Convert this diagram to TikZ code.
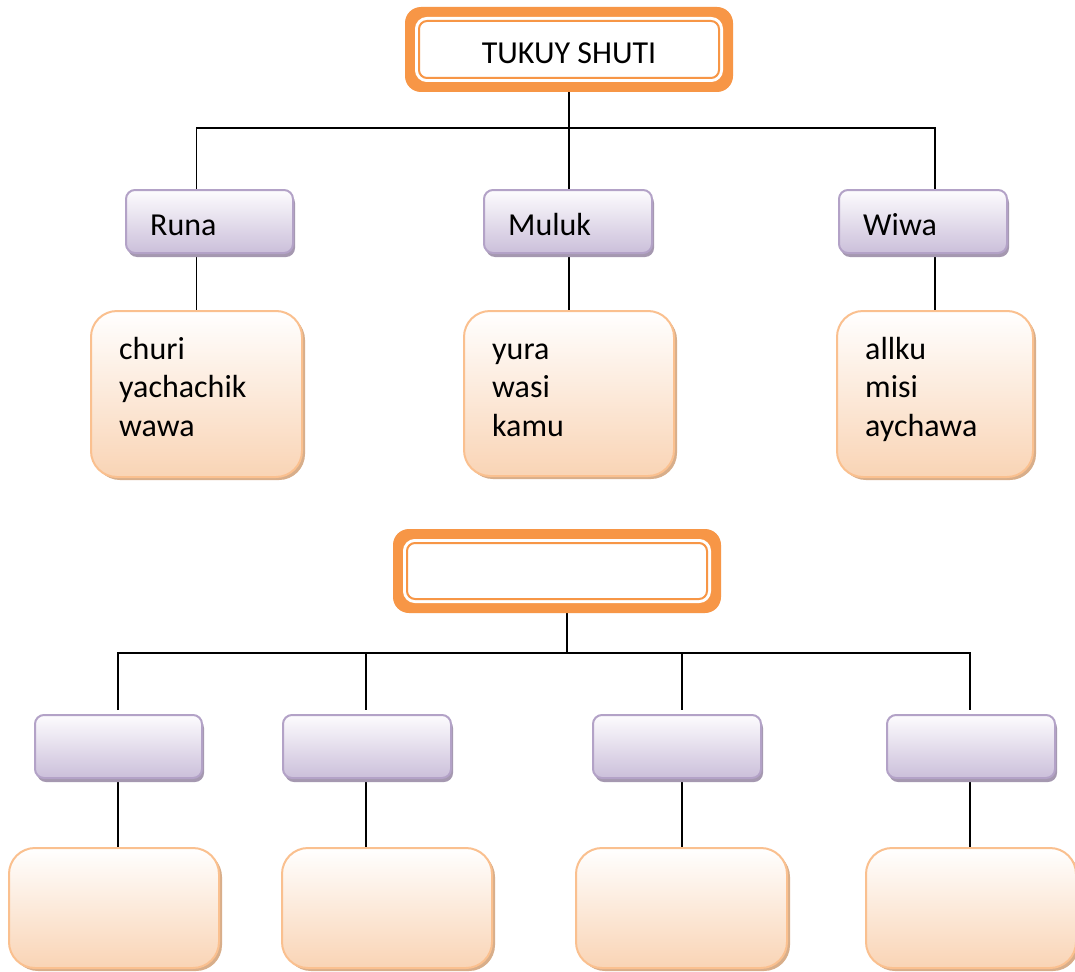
\documentclass[tikz,border=0pt]{standalone}
\usepackage{fontspec}
\setmainfont{Carlito}
\usetikzlibrary{calc,shadows,backgrounds}
\definecolor{orng}{HTML}{F79646}
\definecolor{purpB}{HTML}{B3A2C7}
\definecolor{purpT}{HTML}{FDFCFE}
\definecolor{purpL}{HTML}{CBBFDA}
\definecolor{purpS}{HTML}{A598B0}
\definecolor{pchB}{HTML}{FAC08F}
\definecolor{pchL}{HTML}{F9D4B5}
\definecolor{pchS}{HTML}{D8AE8A}
\begin{document}
\begin{tikzpicture}[x=1pt,y=-1pt,
 rootframe/.style={rectangle, rounded corners=16pt, fill=orng, minimum width=328pt, minimum height=85pt, inner sep=0pt},
 rootinner/.style={rectangle, rounded corners=8pt, fill=white, draw=orng, line width=2pt,
   preaction={draw=white,line width=8pt}, minimum width=300pt, minimum height=57pt, inner sep=0pt,
   font=\fontsize{32}{38}\selectfont, text height=27.5pt, text depth=0pt},
 catbox/.style={rectangle, rounded corners=9pt, draw=purpB, line width=2pt, top color=purpT, bottom color=purpL,
   minimum width=167pt, minimum height=63pt, inner sep=0pt,
   drop shadow={shadow xshift=2pt, shadow yshift=-4pt, fill=purpS, opacity=1}},
 itembox/.style={rectangle, rounded corners=26pt, draw=pchB, line width=2pt, top color=white, bottom color=pchL,
   minimum width=210pt, minimum height=166pt, inner sep=0pt,
   drop shadow={shadow xshift=3pt, shadow yshift=-3pt, fill=pchS, opacity=1}},
 lbl/.style={inner sep=0pt, anchor=base west, font=\fontsize{32}{38.5}\selectfont},
 conn/.style={draw=black, line width=1.8pt}
]
\useasboundingbox (0,0) rectangle (1075,971);

% ---------- top tree ----------
\node[rootframe] (root) at (569,49.5) {};
\node[rootinner] (rootin) at (root.center) {TUKUY SHUTI};

\node[catbox] (r1) at (209.5,221.5) {};
\node[catbox, minimum width=168pt] (r2) at (568,221.5) {};
\node[catbox, minimum width=168pt] (r3) at (923,221.5) {};
\node[lbl] (r1t) at ([xshift=25pt,yshift=-13.5pt]r1.west) {Runa};
\node[lbl] (r2t) at ([xshift=25pt,yshift=-13.5pt]r2.west) {Muluk};
\node[lbl] (r3t) at ([xshift=25pt,yshift=-13.5pt]r3.west) {Wiwa};

\node[itembox, minimum width=211pt] (c1) at (196.5,394) {};
\node[itembox, minimum height=165pt] (c2) at (569,393.5) {};
\node[itembox, minimum width=196pt] (c3) at (935,394) {};
\node[lbl] (c1t) at ([xshift=29pt,yshift=-49pt]c1.north west) {\parbox[t]{170pt}{\fontsize{32}{38.7}\selectfont churi\\yachachik\\wawa}};
\node[lbl] (c2t) at ([xshift=29pt,yshift=-49pt]c2.north west) {\parbox[t]{170pt}{\fontsize{32}{38.7}\selectfont yura\\wasi\\kamu}};
\node[lbl] (c3t) at ([xshift=29pt,yshift=-49pt]c3.north west) {\parbox[t]{160pt}{\fontsize{32}{38.7}\selectfont allku\\misi\\aychawa}};

% ---------- bottom tree ----------
\node[rootframe, minimum height=84pt] (root2) at (557,571) {};
\node[rootinner, minimum height=56pt] (root2in) at (root2.center) {};

\node[catbox] (b1) at (118.5,746.5) {};
\node[catbox, minimum width=168pt] (b2) at (367,746.5) {};
\node[catbox, minimum width=168pt] (b3) at (677,746.5) {};
\node[catbox, minimum width=168pt] (b4) at (971,746.5) {};

\node[itembox, minimum height=120pt] (d1) at (114,908) {};
\node[itembox, minimum height=120pt] (d2) at (387,908) {};
\node[itembox, minimum height=120pt, minimum width=211pt] (d3) at (681.5,908) {};
\node[itembox, minimum height=120pt] (d4) at (971,908) {};

\begin{scope}[on background layer]
  \fill[white] (0,0) rectangle (1075,971);
  \coordinate (bus1) at (569,128);
  \draw[conn] (root.south) -- (root.south |- bus1);
  \draw[conn] (c1 |- r1.north) -- (c1 |- bus1) -- (c3 |- bus1) -- (c3 |- r3.north);
  \draw[conn] (c2 |- bus1) -- (c2 |- r2.north);
  \foreach \i in {1,2,3} {
    \draw[conn] (c\i |- r\i.south) -- (c\i.north);
  }
  \coordinate (k) at (567,653);
  \coordinate (j1) at (118,653);
  \coordinate (j2) at (366,653);
  \coordinate (j3) at (682,653);
  \coordinate (j4) at (970,653);
  \draw[conn] (k |- root2.south) -- (k);
  \draw[conn] ($(j1 |- b1.north)+(0,-4)$) -- (j1) -- (j4) -- ($(j4 |- b4.north)+(0,-4)$);
  \draw[conn] (j2) -- ($(j2 |- b2.north)+(0,-4)$);
  \draw[conn] (j3) -- ($(j3 |- b3.north)+(0,-4)$);
  \foreach \i in {1,2,3,4} {
    \draw[conn] (j\i |- b\i.south) -- (j\i |- d\i.north);
  }
\end{scope}
\end{tikzpicture}
\end{document}
